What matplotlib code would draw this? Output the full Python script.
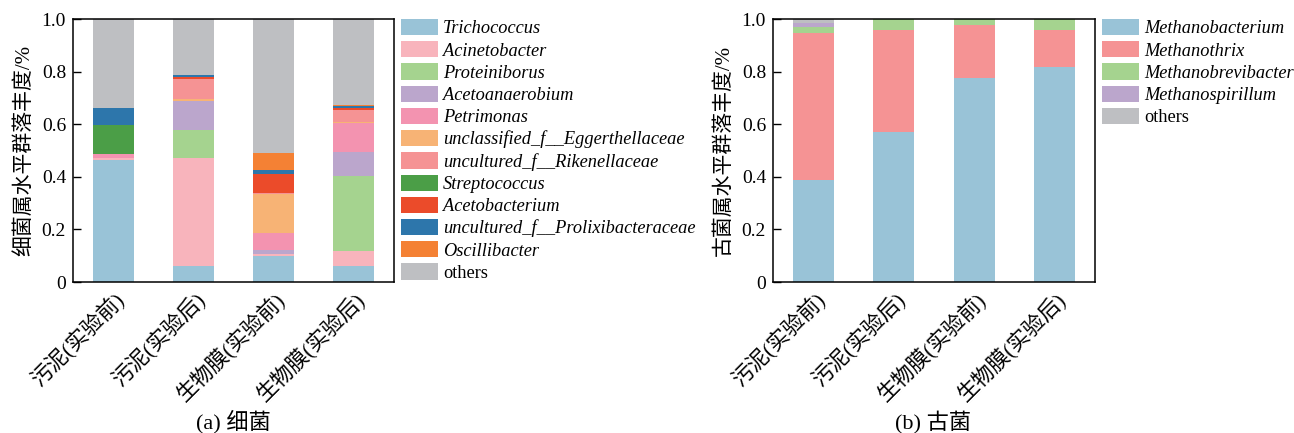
import matplotlib.pyplot as plt
import numpy as np
from matplotlib.transforms import ScaledTranslation

plt.rcParams['font.family'] = ['Liberation Serif', 'Noto Sans CJK SC']

samples = ['污泥(实验前)', '污泥(实验后)', '生物膜(实验前)', '生物膜(实验后)']

# bacteria, genus level (fraction)
bac_names = ['Trichococcus', 'Acinetobacter', 'Proteiniborus', 'Acetoanaerobium',
             'Petrimonas', 'unclassified_f__Eggerthellaceae', 'uncultured_f__Rikenellaceae',
             'Streptococcus', 'Acetobacterium', 'uncultured_f__Prolixibacteraceae',
             'Oscillibacter', 'others']
bac_colors = ['#99c3d7', '#f8b4bc', '#a5d38f', '#bba6cc', '#f393b0', '#f7b375',
              '#f59394', '#4b9e47', '#eb4b2a', '#2d76ab', '#f48134', '#bebfc2']
trichococcus = [0.464, 0.060, 0.098, 0.061]
acinetobacter = [0.007, 0.411, 0.010, 0.057]
proteiniborus = [0.000, 0.107, 0.000, 0.286]
acetoanaerobium = [0.000, 0.112, 0.013, 0.090]
petrimonas = [0.017, 0.000, 0.066, 0.110]
eggerthellaceae = [0.000, 0.005, 0.146, 0.003]
rikenellaceae = [0.000, 0.075, 0.004, 0.047]
streptococcus = [0.109, 0.000, 0.000, 0.000]
acetobacterium = [0.000, 0.008, 0.075, 0.009]
prolixibacteraceae = [0.066, 0.008, 0.014, 0.005]
oscillibacter = [0.000, 0.000, 0.064, 0.004]
bac_series = [trichococcus, acinetobacter, proteiniborus, acetoanaerobium, petrimonas,
              eggerthellaceae, rikenellaceae, streptococcus, acetobacterium,
              prolixibacteraceae, oscillibacter]

# archaea, genus level (fraction)
arc_names = ['Methanobacterium', 'Methanothrix', 'Methanobrevibacter',
             'Methanospirillum', 'others']
arc_colors = ['#99c3d7', '#f59394', '#a5d38f', '#bba6cc', '#bebfc2']
methanobacterium = [0.388, 0.571, 0.776, 0.816]
methanothrix = [0.559, 0.388, 0.202, 0.143]
methanobrevibacter = [0.023, 0.041, 0.022, 0.041]
methanospirillum = [0.015, 0.000, 0.000, 0.000]
arc_series = [methanobacterium, methanothrix, methanobrevibacter, methanospirillum]


def others_of(series):
    return list(1 - np.sum(series, axis=0))


def stacked(fig, ax, series, names, colors, ylabel):
    x = np.arange(len(samples))
    bottom = np.zeros(len(samples))
    for vals, name, c in zip(series, names, colors):
        ax.bar(x, vals, 0.51, bottom=bottom, color=c, label=name)
        bottom += np.array(vals)
    ax.set_xlim(-0.5, len(samples) - 0.5)
    ax.set_ylim(0, 1)
    ax.set_yticks([0, 0.2, 0.4, 0.6, 0.8, 1.0])
    ax.set_yticklabels(['0', '0.2', '0.4', '0.6', '0.8', '1.0'])
    ax.set_xticks(x)
    ax.set_xticklabels(samples, rotation=45, ha='right', va='top',
                       rotation_mode='anchor', fontsize=15.5)
    shift = ScaledTranslation(5 / 100, -4 / 100, fig.dpi_scale_trans)
    for lab in ax.get_xticklabels():
        lab.set_transform(lab.get_transform() + shift)
    ax.tick_params(axis='y', direction='in', labelsize=14, length=5.5, width=1.0, pad=5)
    ax.tick_params(axis='x', length=0, pad=4)
    for s in ax.spines.values():
        s.set_linewidth(1.1)
    ax.set_ylabel(ylabel, fontsize=15, labelpad=5.5)
    leg = ax.legend(loc='upper left', bbox_to_anchor=(1.022, 1.0), frameon=False,
                    fontsize=13.2, handlelength=2.0, handleheight=0.98,
                    labelspacing=0.21, handletextpad=0.3, borderpad=0, borderaxespad=0)
    for t in leg.get_texts():
        if t.get_text() != 'others':
            t.set_fontstyle('italic')


fig = plt.figure(figsize=(12.94, 4.33), dpi=100)
ax1 = fig.add_axes([73 / 1294, 0.3487, 321 / 1294, 0.6074])
ax2 = fig.add_axes([773 / 1294, 0.3487, 322 / 1294, 0.6074])

stacked(fig, ax1, bac_series + [others_of(bac_series)], bac_names, bac_colors,
        '细菌属水平群落丰度/%')
stacked(fig, ax2, arc_series + [others_of(arc_series)], arc_names, arc_colors,
        '古菌属水平群落丰度/%')

fig.text(233 / 1294, 1 - 422 / 433, '(a) 细菌', ha='center', va='center', fontsize=16)
fig.text(933 / 1294, 1 - 422 / 433, '(b) 古菌', ha='center', va='center', fontsize=16)

fig.savefig('out.png', dpi=100)
